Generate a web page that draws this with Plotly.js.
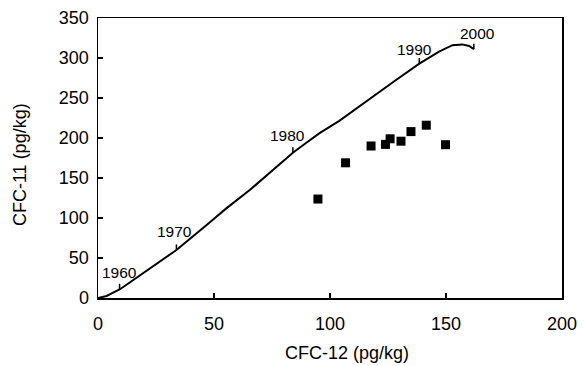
<!DOCTYPE html>
<html>
<head>
<meta charset="utf-8">
<script src="https://cdn.plot.ly/plotly-3.0.1.min.js"></script>
<style>html,body{margin:0;padding:0;background:#fff;}</style>
</head>
<body>
<div id="chart" style="width:584px;height:366px;"></div>
<script>
// Atmospheric history curve (CFC-12 vs CFC-11)
const curveCFC12 = [0, 3.7, 9.5, 15, 22.4, 33.8, 46.7, 55.3, 65.4, 74, 84, 89.8, 95.5, 104, 112.7, 121.3, 127.7, 138.5, 147, 152.8, 157, 160, 162];
const curveCFC11 = [0, 2.5, 11, 22, 37, 60, 91, 112, 135, 157, 181.6, 194, 206, 221.5, 240, 258, 271, 293, 308, 316, 317, 315, 311];

// Year markers on the curve
const years = ["1960", "1970", "1980", "1990", "2000"];
const yearCFC12 = [9.3, 33.8, 84, 138.5, 162];
const yearCFC11 = [11, 60, 181.6, 293, 311];

// Observed samples
const obsCFC12 = [94.8, 106.7, 117.7, 123.9, 125.9, 130.6, 134.9, 141.5, 149.8];
const obsCFC11 = [123.7, 169, 190, 192, 199, 196, 208, 216, 191.6];

const labelShiftX = [0, -2, -5, -5, 4];
const labelShiftY = [17, 19, 17, 14, 16];

const fam = "Liberation Sans, Arial, sans-serif";
const tickFont = {family: fam, size: 18, color: "#000"};
const titleFont = {family: fam, size: 18, color: "#000"};

const traces = [
  {x: curveCFC12, y: curveCFC11, type: "scatter", mode: "lines",
   line: {color: "#000", width: 2}, hoverinfo: "skip"},
  {x: obsCFC12, y: obsCFC11, type: "scatter", mode: "markers",
   marker: {symbol: "square", size: 9, color: "#000"}}
];

const annotations = [];
years.forEach((yr, i) => {
  annotations.push({x: yearCFC12[i], y: yearCFC11[i], xref: "x", yref: "y", text: "",
    showarrow: true, arrowhead: 0, arrowwidth: 1.5, arrowcolor: "#000", ax: 0, ay: -7, standoff: 0});
  annotations.push({x: yearCFC12[i], y: yearCFC11[i], xref: "x", yref: "y", text: yr,
    showarrow: false, xshift: labelShiftX[i], yshift: labelShiftY[i],
    font: {family: fam, size: 15.5, color: "#000"}});
});
annotations.push({xref: "paper", yref: "paper", x: 0.537, y: -0.198, text: "CFC-12 (pg/kg)",
  showarrow: false, font: titleFont, xanchor: "center", yanchor: "middle", borderpad: 0});
annotations.push({xref: "paper", yref: "paper", x: -0.168, y: 0.475, text: "CFC-11 (pg/kg)",
  showarrow: false, font: titleFont, textangle: -90, xanchor: "center", yanchor: "middle", borderpad: 0});

const axisCommon = {
  showgrid: false, zeroline: false, showline: true, mirror: true,
  linecolor: "#000", linewidth: 1.5, ticks: "inside", ticklen: 5, tickwidth: 1.5,
  tickcolor: "#000", tickfont: tickFont, dtick: 50, fixedrange: true
};

const layout = {
  width: 584, height: 366,
  margin: {l: 98, r: 22, t: 18, b: 68},
  paper_bgcolor: "#fff", plot_bgcolor: "#fff",
  showlegend: false,
  font: tickFont,
  xaxis: Object.assign({}, axisCommon, {range: [0, 200], tick0: 0, ticklabelstandoff: 9}),
  yaxis: Object.assign({}, axisCommon, {range: [0, 350], tick0: 0, ticklabelstandoff: 4}),
  annotations: annotations
};

Plotly.newPlot("chart", traces, layout, {staticPlot: true});
</script>
</body>
</html>
